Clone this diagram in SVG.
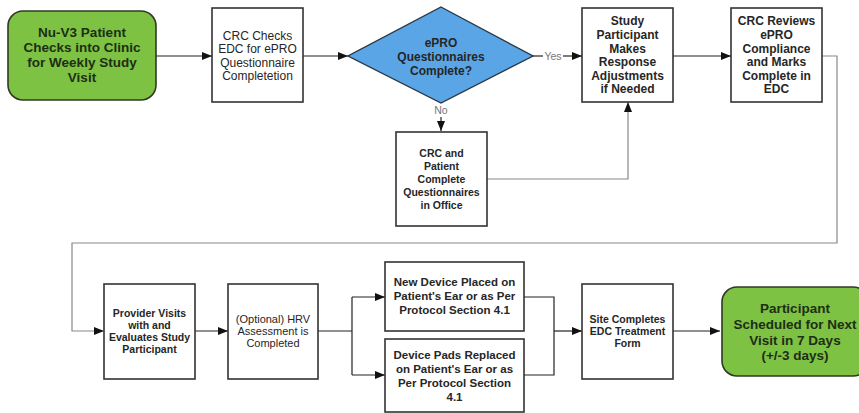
<svg xmlns="http://www.w3.org/2000/svg" width="859" height="413" viewBox="0 0 859 413">
<defs>
<style>
text{font-family:"Liberation Sans",Arial,sans-serif;text-anchor:middle;fill:#262626}
.box{fill:#fff;stroke:#333;stroke-width:1.6}
.term{fill:#7dc243;stroke:#2e3a24;stroke-width:1.6}
.dec{fill:#5aa5e6;stroke:#2a3644;stroke-width:1.4}
.big{font-size:13.5px;font-weight:bold;fill:#1e2e14}
.r12{font-size:12px}
.b12{font-size:12px;font-weight:bold}
.b11{font-size:11.5px;font-weight:bold}
.b10{font-size:10.5px;font-weight:bold}
.r11{font-size:11px}
.lbl{font-size:10.5px;fill:#777}
.c{fill:none;stroke:#222;stroke-width:1.2}
.g{fill:none;stroke:#888;stroke-width:1.2}
</style>
<marker id="ah" viewBox="0 0 10 8" refX="10" refY="4" markerWidth="10" markerHeight="8" markerUnits="userSpaceOnUse" orient="auto">
<path d="M0,0 L10,4 L0,8 z" fill="#111"/>
</marker>
</defs>

<g id="connectors">
<path class="c" d="M156,56 H212" marker-end="url(#ah)"/>
<path class="c" d="M303,56 H348" marker-end="url(#ah)"/>
<path class="c" d="M533,56 H543"/>
<path class="c" d="M563,56 H582" marker-end="url(#ah)"/>
<text class="lbl" x="553" y="60">Yes</text>
<text class="lbl" x="441" y="114">No</text>
<path class="c" d="M441,117 V131" marker-end="url(#ah)"/>
<path class="g" d="M487,179 H628 V102" marker-end="url(#ah)"/>
<path class="c" d="M673,56 H731" marker-end="url(#ah)"/>
<path class="g" d="M822,56 H837 V243 H72 V331 H104" marker-end="url(#ah)"/>
<path class="c" d="M195,331 H228" marker-end="url(#ah)"/>
<path class="c" d="M318,331 H352 M352,297 V375"/>
<path class="c" d="M352,297 H385" marker-end="url(#ah)"/>
<path class="c" d="M352,375 H385" marker-end="url(#ah)"/>
<path class="c" d="M524,297 H554 V375 H524"/>
<path class="c" d="M554,331 H582" marker-end="url(#ah)"/>
<path class="c" d="M673,331 H720" marker-end="url(#ah)"/>
</g>

<g id="start">
<rect class="term" x="8" y="11" width="148" height="89" rx="15"/>
<text class="big" x="82" y="37">Nu-V3 Patient</text>
<text class="big" x="82" y="52">Checks into Clinic</text>
<text class="big" x="82" y="67">for Weekly Study</text>
<text class="big" x="82" y="82">Visit</text>
</g>

<g id="crc-checks">
<rect class="box" x="212" y="8" width="91" height="94"/>
<text class="r12" x="257.5" y="39.5">CRC Checks</text>
<text class="r12" x="257.5" y="53">EDC for ePRO</text>
<text class="r12" x="257.5" y="66.5">Questionnaire</text>
<text class="r12" x="257.5" y="80">Completetion</text>
</g>

<g id="decision">
<polygon class="dec" points="441,7 533,56 441,103 348,56"/>
<text class="b12" x="441" y="47">ePRO</text>
<text class="b12" x="441" y="61">Questionnaires</text>
<text class="b12" x="441" y="75">Complete?</text>
</g>

<g id="crc-patient">
<rect class="box" x="396" y="132" width="91" height="94"/>
<text class="b10" x="441.5" y="157">CRC and</text>
<text class="b10" x="441.5" y="170">Patient</text>
<text class="b10" x="441.5" y="183">Complete</text>
<text class="b10" x="441.5" y="196">Questionnaires</text>
<text class="b10" x="441.5" y="209">in Office</text>
</g>

<g id="study-participant">
<rect class="box" x="582" y="8" width="91" height="94"/>
<text class="b12" x="627.5" y="24.5">Study</text>
<text class="b12" x="627.5" y="38.5">Participant</text>
<text class="b12" x="627.5" y="52.5">Makes</text>
<text class="b12" x="627.5" y="66">Response</text>
<text class="b12" x="627.5" y="79.5">Adjustments</text>
<text class="b12" x="627.5" y="93">if Needed</text>
</g>

<g id="crc-reviews">
<rect class="box" x="731" y="8" width="91" height="94"/>
<text class="b12" x="776.5" y="24.5">CRC Reviews</text>
<text class="b12" x="776.5" y="38.5">ePRO</text>
<text class="b12" x="776.5" y="52.5">Compliance</text>
<text class="b12" x="776.5" y="66">and Marks</text>
<text class="b12" x="776.5" y="79.5">Complete in</text>
<text class="b12" x="776.5" y="93">EDC</text>
</g>

<g id="provider">
<rect class="box" x="104" y="284" width="91" height="95"/>
<text class="b10" x="149.5" y="317">Provider Visits</text>
<text class="b10" x="149.5" y="329">with and</text>
<text class="b10" x="149.5" y="341">Evaluates Study</text>
<text class="b10" x="149.5" y="353">Participant</text>
</g>

<g id="hrv">
<rect class="box" x="228" y="284" width="90" height="95"/>
<text class="r11" x="273" y="323">(Optional) HRV</text>
<text class="r11" x="273" y="335">Assessment is</text>
<text class="r11" x="273" y="347">Completed</text>
</g>

<g id="new-device">
<rect class="box" x="385" y="262" width="139" height="69"/>
<text class="b11" x="454.5" y="286">New Device Placed on</text>
<text class="b11" x="454.5" y="300">Patient's Ear or as Per</text>
<text class="b11" x="454.5" y="314">Protocol Section 4.1</text>
</g>

<g id="device-pads">
<rect class="box" x="385" y="339" width="139" height="73"/>
<text class="b11" x="454.5" y="359">Device Pads Replaced</text>
<text class="b11" x="454.5" y="373">on Patient's Ear or as</text>
<text class="b11" x="454.5" y="387">Per Protocol Section</text>
<text class="b11" x="454.5" y="401">4.1</text>
</g>

<g id="site-completes">
<rect class="box" x="582" y="284" width="91" height="95"/>
<text class="b10" x="627.5" y="323">Site Completes</text>
<text class="b10" x="627.5" y="335">EDC Treatment</text>
<text class="b10" x="627.5" y="347">Form</text>
</g>

<g id="end">
<rect class="term" x="722" y="287" width="146" height="89" rx="15"/>
<text class="big" x="795" y="313">Participant</text>
<text class="big" x="795" y="329">Scheduled for Next</text>
<text class="big" x="795" y="345">Visit in 7 Days</text>
<text class="big" x="795" y="360">(+/-3 days)</text>
</g>
</svg>
